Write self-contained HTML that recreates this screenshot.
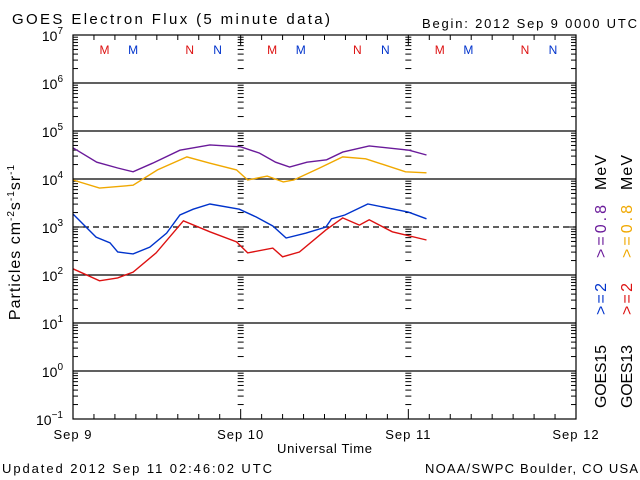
<!DOCTYPE html>
<html><head><meta charset="utf-8"><style>
html,body{margin:0;padding:0;background:#fff}
svg{display:block;font-family:"Liberation Sans",sans-serif}
</style></head><body>
<svg id="chart" width="640" height="480" viewBox="0 0 640 480" xmlns="http://www.w3.org/2000/svg">
<rect width="640" height="480" fill="#fff"/>
<text x="12" y="24" font-size="15" textLength="318" lengthAdjust="spacing">GOES Electron Flux (5 minute data)</text>
<text x="422" y="28" font-size="13" textLength="215" lengthAdjust="spacing">Begin: 2012 Sep 9 0000 UTC</text>
<g id="grid"></g>
<g id="ticks" stroke="#000" stroke-width="1"></g>
<g id="ylabels" font-size="14"></g>
<g id="xlabels" font-size="13"></g>
<g id="series" fill="none" stroke-width="1.4"></g>
<g id="marks" font-size="12"></g>
<rect x="73" y="35" width="503" height="384" fill="none" stroke="#000" stroke-width="1.2"/>
<text transform="translate(20,242) rotate(-90)" font-size="16" text-anchor="middle" letter-spacing="1">Particles cm<tspan font-size="10" dy="-6">-2</tspan><tspan dy="6">s</tspan><tspan font-size="10" dy="-6">-1</tspan><tspan dy="6">sr</tspan><tspan font-size="10" dy="-6">-1</tspan></text>
<text x="277" y="453" font-size="13" textLength="95" lengthAdjust="spacing">Universal Time</text>
<text x="2" y="473" font-size="13" textLength="270" lengthAdjust="spacing">Updated 2012 Sep 11 02:46:02 UTC</text>
<text x="425" y="473" font-size="13" textLength="213" lengthAdjust="spacing">NOAA/SWPC Boulder, CO USA</text>
<g font-size="16">
<text transform="translate(606,408) rotate(-90)" textLength="63" lengthAdjust="spacing" fill="#000">GOES15</text>
<text transform="translate(606,315) rotate(-90)" textLength="32" lengthAdjust="spacing" fill="#0033cc">&gt;=2</text>
<text transform="translate(606,258) rotate(-90)" textLength="53" lengthAdjust="spacing" fill="#6a1a9a">&gt;=0.8</text>
<text transform="translate(606,190) rotate(-90)" textLength="35" lengthAdjust="spacing" fill="#000">MeV</text>
<text transform="translate(632,408) rotate(-90)" textLength="63" lengthAdjust="spacing" fill="#000">GOES13</text>
<text transform="translate(632,315) rotate(-90)" textLength="32" lengthAdjust="spacing" fill="#dd1111">&gt;=2</text>
<text transform="translate(632,258) rotate(-90)" textLength="53" lengthAdjust="spacing" fill="#f0a800">&gt;=0.8</text>
<text transform="translate(632,190) rotate(-90)" textLength="35" lengthAdjust="spacing" fill="#000">MeV</text>
</g>
</svg>
<script>
const hoursP15 = [0,3.4,6.4,8.6,11.4,15.3,19.6,24,26.7,29,31,33.5,36.3,38.6,42.4,48.1,50.6];
const p15 = [4.65,4.35,4.23,4.15,4.33,4.6,4.71,4.67,4.54,4.35,4.25,4.35,4.4,4.56,4.69,4.6,4.5];
const hoursP13 = [0,3.8,8.6,12.1,16.3,19.6,23.4,25,27.8,30.1,31.6,35.3,38.6,41.9,47.6,50.6];
const p13 = [3.98,3.81,3.87,4.19,4.46,4.33,4.19,3.98,4.06,3.94,3.98,4.23,4.46,4.42,4.15,4.13];
const hoursE15 = [0,3.3,5.3,6.4,8.6,11,13.4,15.3,17.2,19.6,23.8,26.2,28.6,30.5,33.3,36.2,37,38.9,42.2,48,50.6];
const e15 = [3.27,2.79,2.67,2.48,2.44,2.58,2.87,3.25,3.37,3.48,3.37,3.21,3.02,2.77,2.87,3.0,3.17,3.25,3.48,3.31,3.17];
const hoursE13 = [0,3.8,6.4,8.6,11.9,15.8,19.6,23.4,25,28.6,30,32.4,36.2,38.6,41,42.4,45.7,50.6];
const e13 = [2.13,1.88,1.94,2.06,2.46,3.13,2.9,2.69,2.46,2.56,2.38,2.48,2.94,3.19,3.04,3.15,2.9,2.73];
const yExps = [-1,0,1,2,3,4,5,6,7];
const dayLabels = ["Sep 9","Sep 10","Sep 11","Sep 12"];
const markLabels = ["M","M","N","N"];
const markHours = [4.5,8.6,16.7,20.7];

const X0=73,X1=576,Y0=419,Y1=35;
const x = h => X0 + h*(X1-X0)/72;
const y = lg => Y0 - (lg+1)*(Y0-Y1)/8;
const NS="http://www.w3.org/2000/svg";
function mk(tag,parent,attrs){const e=document.createElementNS(NS,tag);for(const k in attrs)e.setAttribute(k,attrs[k]);parent.appendChild(e);return e;}

const grid=document.getElementById('grid');
yExps.forEach(e=>{
  if(e===-1||e===7) return;
  const l=mk('line',grid,{x1:X0,x2:X1,y1:y(e),y2:y(e),stroke:'#000','stroke-width':1.2});
  if(e===3) l.setAttribute('stroke-dasharray','6,4');
  
  
});

const ticks=document.getElementById('ticks');
const tickXs=[[X0,X0+5],[X1-5,X1],[x(24)-3,x(24)+3],[x(48)-3,x(48)+3]];
for(let e=-1;e<7;e++){for(let k=2;k<=9;k++){const yy=y(e+Math.log10(k));
  tickXs.forEach(t=>mk('line',ticks,{x1:t[0],x2:t[1],y1:yy,y2:yy}));}}
yExps.forEach(e=>{[[X0,X0+10],[X1-10,X1],[x(24)-4,x(24)+4],[x(48)-4,x(48)+4]].forEach(t=>mk('line',ticks,{x1:t[0],x2:t[1],y1:y(e),y2:y(e)}));});
for(let h=0;h<=72;h+=3){const major=h%24===0;
  mk('line',ticks,{x1:x(h),x2:x(h),y1:Y0,y2:Y0-(major?10:5)});
  mk('line',ticks,{x1:x(h),x2:x(h),y1:Y1,y2:Y1+(major?10:5)});}

const yl=document.getElementById('ylabels');
yExps.forEach(e=>{const t=mk('text',yl,{x:63,y:y(e)+6,'text-anchor':'end'});
  
  
  t.innerHTML='10<tspan font-size="10" dy="-7">'+(e<0?'−1':e)+'</tspan>';});

const xl=document.getElementById('xlabels');
dayLabels.forEach((d,i)=>{const t=mk('text',xl,{x:x(i*24),y:439,'text-anchor':'middle','letter-spacing':'1'});
  
  
  t.textContent=d;});

const marks=document.getElementById('marks');
[0,24,48].forEach(off=>markLabels.forEach((m,i)=>{
  const t=mk('text',marks,{x:x(off+markHours[i]),y:54,'text-anchor':'middle',fill:(i%2===0)?'#dd1111':'#0033cc'});
  
  
  t.textContent=m;}));

const ser=document.getElementById('series');
[[hoursP15,p15,'#6a1a9a','goes15-08mev-line'],[hoursP13,p13,'#f0a800','goes13-08mev-line'],
 [hoursE15,e15,'#0033cc','goes15-2mev-line'],[hoursE13,e13,'#dd1111','goes13-2mev-line']].forEach(s=>{
  const pts=s[0].map((h,i)=>x(h).toFixed(1)+','+y(s[1][i]).toFixed(1)).join(' ');
  const p=mk('polyline',ser,{points:pts,stroke:s[2]});
  
  
});
</script>
</body></html>
